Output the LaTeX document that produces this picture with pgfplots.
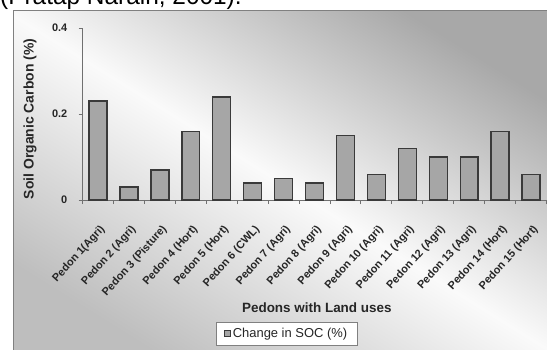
\documentclass[border=0pt]{standalone}
\usepackage{pgfplots}
\pgfplotsset{compat=1.18}
\usepackage{graphicx}
\usepackage{fontspec}
\setmainfont{Liberation Sans}
\definecolor{axisgray}{HTML}{707070}
\definecolor{barfill}{HTML}{A6A6A6}
\definecolor{barline}{HTML}{3A3A3A}
\definecolor{txt}{HTML}{262626}
\definecolor{shadetop}{HTML}{A8A8A8}
\definecolor{shadebot}{HTML}{BEBEBE}
\definecolor{shademid}{HTML}{FAFAFA}
\pgfdeclareverticalshading{chartbg}{100bp}{color(0bp)=(shadebot); color(25bp)=(shadebot); color(50bp)=(shademid); color(75bp)=(shadetop); color(100bp)=(shadetop)}
\newcommand{\R}[1]{\rotatebox{48}{#1}}
\begin{document}
\begin{tikzpicture}[x=1bp,y=1bp]
\useasboundingbox (0,0) rectangle (547,349);
\begin{scope}
\clip (0,0) rectangle (547,349);
\shade[shading=chartbg, shading angle=-32] (13,-10) rectangle (557,338);
\draw[color=gray, line width=1bp] (13,-10) -- (13,338) -- (557,338);
\node[anchor=base west, inner sep=0pt, font=\fontsize{24.5}{28}\selectfont] at (0,345) {(Pratap Narain, 2001).};
\end{scope}
\begin{axis}[
  at={(82.5bp,149bp)}, anchor=south west, scale only axis,
  width=464bp, height=172bp,
  xmin=-0.5, xmax=14.5, ymin=0, ymax=0.4,
  axis x line*=bottom, axis y line*=left,
  axis line style={axisgray, line width=0.9bp},
  ytick={0,0.2,0.4},
  xtick={0,...,14},
  xticklabels={\R{Pedon 1(Agri)}, \R{Pedon 2 (Agri)}, \R{Pedon 3 (Pisture)}, \R{Pedon 4 (Hort)}, \R{Pedon 5 (Hort)}, \R{Pedon 6 (CWL)}, \R{Pedon 7 (Agri)}, \R{Pedon 8 (Agri)}, \R{Pedon 9 (Agri)}, \R{Pedon 10 (Agri)}, \R{Pedon 11 (Agri)}, \R{Pedon 12 (Agri)}, \R{Pedon 13 (Agri)}, \R{Pedon 14 (Hort)}, \R{Pedon 15 (Hort)}},
  minor xtick={-0.5,0.5,...,14.5},
  tick align=outside, major tick length=4bp, minor tick length=4bp,
  major x tick style={draw=none},
  every tick/.append style={axisgray, line width=0.9bp},
  /pgf/number format/assume math mode=true,
  ticklabel style={font=\fontsize{11}{12}\selectfont\bfseries, text=txt},
  xticklabel style={anchor=north east, inner sep=0pt, xshift=9bp, yshift=-20bp},
  yticklabel style={inner sep=0pt, xshift=-11bp},
  ylabel={Soil Organic Carbon (\%)},
  xlabel={Pedons with Land uses},
  ylabel style={at={(axis description cs:-0.113,0.471)}, anchor=center, rotate=0, font=\fontsize{14}{16}\selectfont\bfseries, text=txt},
  xlabel style={at={(axis description cs:0.505,-0.628)}, anchor=center, font=\fontsize{13.5}{16}\selectfont\bfseries, text=txt},
  legend style={at={(axis description cs:0.4397,-0.776)}, anchor=center, draw=gray, fill=white, font=\fontsize{13}{15}\selectfont, text=txt, inner xsep=8bp, inner ysep=4bp, legend cell align=left},
  legend image code/.code={\draw[fill=barfill, draw=barline, line width=1bp] (0bp,-3bp) rectangle (6bp,3bp);},
]
\addplot[ybar, bar width=0.58, fill=barfill, draw=barline, line width=1.4bp] coordinates {
(0,0.23) (1,0.03) (2,0.07) (3,0.16) (4,0.24) (5,0.04) (6,0.05) (7,0.04) (8,0.15) (9,0.06) (10,0.12) (11,0.10) (12,0.10) (13,0.16) (14,0.06)};
\addlegendentry{Change in SOC (\%)}
\end{axis}
\end{tikzpicture}
\end{document}
